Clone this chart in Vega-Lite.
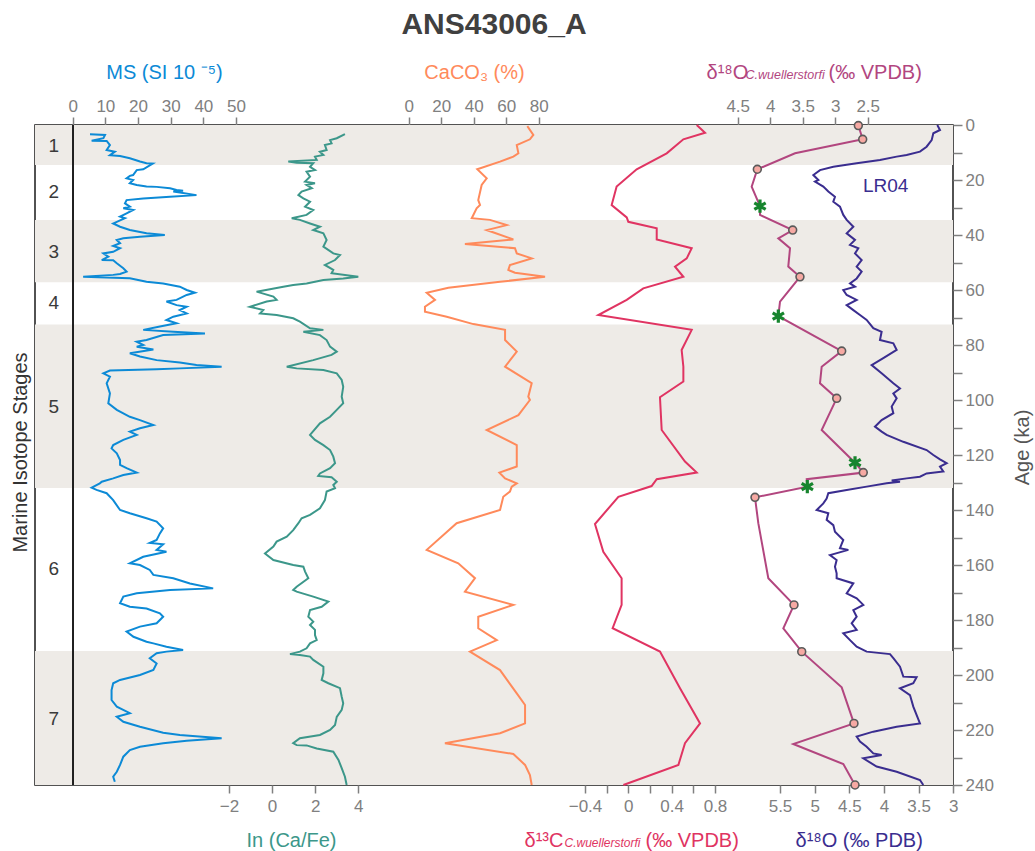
{
  "$schema": "https://vega.github.io/schema/vega-lite/v6.json",
  "width": 918,
  "height": 660,
  "autosize": "none",
  "padding": {"left": 35, "top": 125, "right": 82, "bottom": 66},
  "title": {"text": "ANS43006_A", "fontSize": 30, "fontWeight": "bold", "color": "#404040", "font": "Liberation Sans", "anchor": "middle", "offset": 22},
  "config": {
    "font": "Liberation Sans",
    "view": {"stroke": "#1a1a1a", "strokeWidth": 1.5},
    "axis": {"labelFont": "Liberation Sans", "labelFontSize": 17, "labelColor": "#808080", "tickColor": "#808080", "tickSize": 8, "tickWidth": 1.5, "domain": false, "grid": false, "labelFlush": false, "labelOverlap": false, "titleFont": "Liberation Sans", "titleFontSize": 20, "titleFontWeight": "normal", "titleBaseline": "alphabetic"},
    "axisTop": {"labelPadding": 2},
    "axisBottom": {"labelPadding": 5}
  },
  "datasets": {
    "bands": [{"start": 0, "end": 14.5}, {"start": 34.5, "end": 57.2}, {"start": 72.5, "end": 132}, {"start": 191.3, "end": 240}],
    "stages": [{"stage": "1", "age": 7.6}, {"stage": "2", "age": 24.5}, {"stage": "3", "age": 46}, {"stage": "4", "age": 64.7}, {"stage": "5", "age": 102.5}, {"stage": "6", "age": 161.5}, {"stage": "7", "age": 216}],
    "ms": [
      {"age":3.4,"ms":5.3},{"age":3.6,"ms":9.9},{"age":4.8,"ms":9.4},{"age":5.7,"ms":5.8},{"age":5.8,"ms":10.4},{"age":7.3,"ms":11.4},{"age":9.1,"ms":10.4},{"age":9.7,"ms":12.9},{"age":11.0,"ms":11.4},{"age":11.3,"ms":14.5},{"age":12.1,"ms":17.5},{"age":13.3,"ms":20.6},{"age":13.9,"ms":22.6},{"age":14.0,"ms":24.5},{"age":16.1,"ms":21.6},{"age":16.4,"ms":19.6},{"age":18.2,"ms":18.5},{"age":18.5,"ms":17.5},{"age":19.4,"ms":16.5},{"age":20.0,"ms":18.5},{"age":21.2,"ms":17.5},{"age":21.8,"ms":19.6},{"age":22.4,"ms":22.6},{"age":22.5,"ms":25.7},{"age":23.0,"ms":29.8},{"age":23.6,"ms":31.8},{"age":23.9,"ms":33.8},{"age":24.2,"ms":30.8},{"age":25.5,"ms":37.9},{"age":26.1,"ms":29.8},{"age":26.7,"ms":21.6},{"age":27.3,"ms":16.5},{"age":28.5,"ms":16.0},{"age":29.7,"ms":17.5},{"age":30.3,"ms":15.5},{"age":30.9,"ms":18.5},{"age":32.1,"ms":16.5},{"age":33.3,"ms":14.5},{"age":33.9,"ms":16.0},{"age":35.2,"ms":13.5},{"age":35.8,"ms":12.4},{"age":37.0,"ms":14.5},{"age":38.2,"ms":17.5},{"age":39.4,"ms":22.6},{"age":40.0,"ms":28.2},{"age":40.6,"ms":20.6},{"age":41.2,"ms":15.5},{"age":41.8,"ms":13.5},{"age":43.0,"ms":14.5},{"age":44.0,"ms":12.4},{"age":44.8,"ms":14.5},{"age":46.1,"ms":12.4},{"age":46.7,"ms":9.4},{"age":47.9,"ms":10.9},{"age":49.1,"ms":8.9},{"age":49.2,"ms":12.4},{"age":50.3,"ms":13.5},{"age":52.1,"ms":15.5},{"age":53.3,"ms":16.5},{"age":54.2,"ms":14.5},{"age":54.5,"ms":12.4},{"age":55.2,"ms":3.2},{"age":55.7,"ms":17.5},{"age":57.0,"ms":22.6},{"age":57.6,"ms":27.7},{"age":58.8,"ms":32.8},{"age":60.0,"ms":34.9},{"age":61.0,"ms":37.4},{"age":61.8,"ms":34.9},{"age":63.6,"ms":31.8},{"age":64.2,"ms":28.7},{"age":65.5,"ms":31.8},{"age":66.1,"ms":34.9},{"age":67.3,"ms":32.8},{"age":68.5,"ms":34.9},{"age":69.7,"ms":30.8},{"age":70.9,"ms":28.7},{"age":72.1,"ms":31.8},{"age":73.3,"ms":26.7},{"age":74.5,"ms":21.6},{"age":75.2,"ms":30.8},{"age":75.8,"ms":40.5},{"age":76.4,"ms":27.7},{"age":78.2,"ms":22.6},{"age":78.8,"ms":19.6},{"age":80.0,"ms":21.6},{"age":80.6,"ms":19.6},{"age":81.6,"ms":24.7},{"age":83.0,"ms":17.5},{"age":84.2,"ms":20.6},{"age":85.5,"ms":25.7},{"age":86.4,"ms":32.8},{"age":87.3,"ms":37.9},{"age":87.9,"ms":45.6},{"age":88.5,"ms":32.8},{"age":88.8,"ms":25.7},{"age":89.3,"ms":11.4},{"age":90.3,"ms":9.4},{"age":91.5,"ms":11.4},{"age":93.9,"ms":10.4},{"age":97.6,"ms":11.4},{"age":101.2,"ms":10.9},{"age":103.6,"ms":13.5},{"age":106.1,"ms":17.5},{"age":107.3,"ms":20.6},{"age":109.1,"ms":24.7},{"age":110.3,"ms":20.6},{"age":111.5,"ms":17.5},{"age":112.7,"ms":19.6},{"age":114.5,"ms":15.5},{"age":116.4,"ms":12.4},{"age":117.6,"ms":11.9},{"age":119.4,"ms":13.5},{"age":121.8,"ms":14.5},{"age":123.6,"ms":14.5},{"age":124.8,"ms":16.5},{"age":126.4,"ms":19.6},{"age":127.3,"ms":15.5},{"age":128.5,"ms":12.4},{"age":129.7,"ms":8.9},{"age":130.3,"ms":8.3},{"age":131.9,"ms":5.8},{"age":132.7,"ms":7.3},{"age":133.9,"ms":10.4},{"age":136.4,"ms":12.4},{"age":140,"ms":14.5},{"age":141.2,"ms":17.5},{"age":143,"ms":22.6},{"age":144.2,"ms":25.7},{"age":146.7,"ms":27.7},{"age":148.5,"ms":26.7},{"age":150.9,"ms":25.7},{"age":152.0,"ms":23.6},{"age":152.5,"ms":27.7},{"age":154.5,"ms":25.7},{"age":155.2,"ms":28.7},{"age":157,"ms":21.6},{"age":159.4,"ms":17.5},{"age":160,"ms":20.6},{"age":161.8,"ms":23.6},{"age":163.6,"ms":24.7},{"age":164.8,"ms":30.8},{"age":166.7,"ms":35.9},{"age":168.5,"ms":43},{"age":169.1,"ms":29.8},{"age":170.3,"ms":19.6},{"age":171.5,"ms":15.5},{"age":173.9,"ms":14.5},{"age":175.2,"ms":17.5},{"age":175.8,"ms":22.6},{"age":177.6,"ms":26.7},{"age":178.8,"ms":27.7},{"age":181.2,"ms":25.7},{"age":182.4,"ms":20.6},{"age":184.2,"ms":16.5},{"age":186.1,"ms":18.6},{"age":187.9,"ms":22.6},{"age":188.5,"ms":24.7},{"age":189.7,"ms":28.7},{"age":190.9,"ms":33.8},{"age":191.5,"ms":28.7},{"age":192.1,"ms":25.7},{"age":193.9,"ms":23.6},{"age":195.8,"ms":25.7},{"age":198.2,"ms":24.7},{"age":200,"ms":20.6},{"age":201.8,"ms":14.5},{"age":203,"ms":12.4},{"age":205.5,"ms":11.9},{"age":209.1,"ms":11.9},{"age":211.5,"ms":13.5},{"age":213.9,"ms":17.5},{"age":215.2,"ms":13.5},{"age":217,"ms":15.5},{"age":218.8,"ms":20.6},{"age":221,"ms":27.7},{"age":221.8,"ms":32.8},{"age":223,"ms":45.6},{"age":223.9,"ms":34.9},{"age":224.8,"ms":27.7},{"age":226.1,"ms":20.6},{"age":227.3,"ms":17.5},{"age":229.7,"ms":15.5},{"age":232.7,"ms":14.5},{"age":235.2,"ms":13.5},{"age":237,"ms":12.4},{"age":238.8,"ms":12.9}
    ],
    "cafe": [
      {"age":3.3,"v":3.38},{"age":4.8,"v":3.0},{"age":5.5,"v":2.69},{"age":6.7,"v":2.76},{"age":7.3,"v":2.45},{"age":9.1,"v":2.53},{"age":9.7,"v":2.22},{"age":10.9,"v":2.38},{"age":11.5,"v":1.99},{"age":12.7,"v":2.07},{"age":13.3,"v":0.75},{"age":13.7,"v":1.14},{"age":13.9,"v":1.91},{"age":15.2,"v":1.76},{"age":16.4,"v":1.99},{"age":17,"v":1.6},{"age":18.8,"v":1.76},{"age":20.6,"v":1.53},{"age":21.2,"v":1.99},{"age":21.8,"v":1.6},{"age":23,"v":1.84},{"age":24.2,"v":1.37},{"age":25.5,"v":1.22},{"age":26.7,"v":1.45},{"age":27.9,"v":1.76},{"age":29.7,"v":1.53},{"age":30.9,"v":1.91},{"age":32.7,"v":1.6},{"age":33.9,"v":0.91},{"age":34.5,"v":1.29},{"age":35.8,"v":1.76},{"age":37,"v":2.22},{"age":38.2,"v":1.91},{"age":39.4,"v":2.38},{"age":41.8,"v":2.53},{"age":44.2,"v":2.38},{"age":46.7,"v":2.84},{"age":47.3,"v":3.15},{"age":49.1,"v":2.92},{"age":50.9,"v":2.45},{"age":52.7,"v":2.84},{"age":53.9,"v":2.76},{"age":55.2,"v":4.0},{"age":55.8,"v":3.3},{"age":56.4,"v":2.38},{"age":57.6,"v":1.6},{"age":58.2,"v":0.98},{"age":58.8,"v":0.52},{"age":60.6,"v":-0.72},{"age":62.4,"v":0.06},{"age":63.6,"v":0.21},{"age":64.2,"v":-0.25},{"age":66.1,"v":-1.03},{"age":67.3,"v":-0.41},{"age":68.5,"v":-0.56},{"age":69.1,"v":0.21},{"age":70.3,"v":0.98},{"age":71.5,"v":1.29},{"age":73.9,"v":1.76},{"age":74.5,"v":2.38},{"age":75.2,"v":1.45},{"age":76.4,"v":2.22},{"age":78.2,"v":2.53},{"age":80.6,"v":2.69},{"age":82.4,"v":3.0},{"age":83.6,"v":2.76},{"age":85.5,"v":1.91},{"age":87.9,"v":0.68},{"age":88.5,"v":1.14},{"age":89.1,"v":2.38},{"age":90.3,"v":3.0},{"age":92.7,"v":3.23},{"age":95.2,"v":3.3},{"age":98.8,"v":3.23},{"age":101.2,"v":3.3},{"age":103.6,"v":3.0},{"age":106.1,"v":2.69},{"age":108.5,"v":2.22},{"age":112.7,"v":1.76},{"age":114.5,"v":1.99},{"age":116.4,"v":2.38},{"age":118.2,"v":2.69},{"age":120.6,"v":2.84},{"age":123,"v":2.92},{"age":124.8,"v":2.69},{"age":126.7,"v":2.22},{"age":127.6,"v":2.14},{"age":128.1,"v":2.76},{"age":129.7,"v":3.0},{"age":130.9,"v":2.84},{"age":132.1,"v":2.92},{"age":133.3,"v":2.53},{"age":136.4,"v":2.45},{"age":139.4,"v":2.22},{"age":141.8,"v":1.76},{"age":143,"v":1.37},{"age":144.8,"v":1.22},{"age":147.3,"v":0.98},{"age":149.7,"v":0.68},{"age":151.5,"v":0.21},{"age":153.3,"v":0.06},{"age":155.8,"v":-0.33},{"age":158.2,"v":0.06},{"age":160,"v":0.98},{"age":160.6,"v":1.45},{"age":162.4,"v":1.53},{"age":164.8,"v":1.68},{"age":167.9,"v":1.14},{"age":169.1,"v":0.98},{"age":169.7,"v":1.14},{"age":171.5,"v":1.91},{"age":173.3,"v":2.61},{"age":175.2,"v":2.3},{"age":176.4,"v":1.76},{"age":178.8,"v":1.68},{"age":180.6,"v":1.91},{"age":181.8,"v":1.76},{"age":183.6,"v":1.99},{"age":185.5,"v":1.99},{"age":187.3,"v":2.07},{"age":188.5,"v":1.76},{"age":190.3,"v":1.6},{"age":191.5,"v":1.29},{"age":192.4,"v":0.83},{"age":192.7,"v":1.29},{"age":193.3,"v":1.76},{"age":194.5,"v":1.91},{"age":197,"v":2.38},{"age":199.4,"v":2.38},{"age":201.8,"v":2.3},{"age":203,"v":2.61},{"age":204.8,"v":3.15},{"age":207.9,"v":3.23},{"age":210.3,"v":3.3},{"age":212.7,"v":3.23},{"age":215.2,"v":3.0},{"age":218.2,"v":2.92},{"age":220,"v":2.69},{"age":221.8,"v":2.22},{"age":223,"v":1.29},{"age":224.8,"v":0.98},{"age":225.5,"v":1.14},{"age":225.6,"v":1.6},{"age":226.7,"v":2.07},{"age":227.9,"v":2.84},{"age":230.9,"v":3.08},{"age":233.9,"v":3.23},{"age":237,"v":3.38},{"age":240,"v":3.46}
    ],
    "caco3": [
      {"age":0.4,"v":73},{"age":3.6,"v":76.7},{"age":5.2,"v":74.6},{"age":7.3,"v":66.5},{"age":10.3,"v":67.5},{"age":11.5,"v":64.4},{"age":13.3,"v":56.2},{"age":16.1,"v":42.2},{"age":19.4,"v":48},{"age":21.8,"v":44.9},{"age":27.3,"v":42.8},{"age":29.1,"v":43.9},{"age":30.3,"v":41.8},{"age":33.9,"v":38.8},{"age":34.5,"v":50},{"age":36.4,"v":60.3},{"age":38.2,"v":48},{"age":41.6,"v":64.4},{"age":43.3,"v":34.6},{"age":44.8,"v":65.4},{"age":46.7,"v":66.5},{"age":48.5,"v":75.7},{"age":50.9,"v":62.3},{"age":52.7,"v":61.3},{"age":53.7,"v":65.4},{"age":55.2,"v":83.9},{"age":57,"v":56.2},{"age":59.2,"v":24.4},{"age":61,"v":11.1},{"age":63.6,"v":16.2},{"age":66.1,"v":10},{"age":67.9,"v":10},{"age":69.7,"v":23.4},{"age":72.4,"v":39.8},{"age":74.5,"v":59.3},{"age":78.2,"v":59.3},{"age":82.4,"v":66.5},{"age":87.9,"v":59.3},{"age":93.9,"v":75.7},{"age":98.8,"v":73.6},{"age":100,"v":74.6},{"age":105.5,"v":67.5},{"age":110.9,"v":48},{"age":116.4,"v":66.5},{"age":121.8,"v":66.5},{"age":124.2,"v":66.5},{"age":126.4,"v":55.8},{"age":128.5,"v":59.3},{"age":130.3,"v":66.5},{"age":131.5,"v":63.4},{"age":133.3,"v":62.3},{"age":135.2,"v":58.2},{"age":140,"v":56.2},{"age":144.8,"v":29.5},{"age":154.5,"v":11.1},{"age":159.4,"v":30.5},{"age":164.8,"v":40.8},{"age":169.7,"v":34.6},{"age":174.5,"v":64.4},{"age":178.8,"v":42.8},{"age":183,"v":42.8},{"age":187.3,"v":54.2},{"age":191.5,"v":37.7},{"age":198.2,"v":56.2},{"age":206.7,"v":66.5},{"age":210.9,"v":71.6},{"age":217.6,"v":71.6},{"age":221.2,"v":56.2},{"age":224.8,"v":22.3},{"age":228.7,"v":64.4},{"age":232.7,"v":71.6},{"age":236.4,"v":74.6},{"age":240,"v":75.7}
    ],
    "d13c": [
      {"age":0,"v":0.631},{"age":2.8,"v":0.708},{"age":5.2,"v":0.508},{"age":10.3,"v":0.354},{"age":16.1,"v":0.077},{"age":22.4,"v":-0.108},{"age":29.1,"v":-0.154},{"age":33.6,"v":-0.015},{"age":35.2,"v":0.0},{"age":37.6,"v":0.262},{"age":41.6,"v":0.262},{"age":44.8,"v":0.585},{"age":48.5,"v":0.539},{"age":51.5,"v":0.431},{"age":55.2,"v":0.508},{"age":59.4,"v":0.138},{"age":63.6,"v":-0.015},{"age":69.1,"v":-0.277},{"age":74.5,"v":0.585},{"age":81.8,"v":0.492},{"age":87.9,"v":0.508},{"age":93.3,"v":0.508},{"age":99,"v":0.292},{"age":110.9,"v":0.308},{"age":122.4,"v":0.523},{"age":126.4,"v":0.631},{"age":128.8,"v":0.262},{"age":131.3,"v":0.215},{"age":135.2,"v":-0.092},{"age":145.1,"v":-0.308},{"age":155.2,"v":-0.231},{"age":164.8,"v":-0.062},{"age":174.5,"v":-0.062},{"age":183,"v":-0.145},{"age":191.5,"v":0.292},{"age":204.8,"v":0.477},{"age":217.6,"v":0.662},{"age":224.8,"v":0.523},{"age":232.7,"v":0.462},{"age":240,"v":-0.046}
    ],
    "d18o": [
      {"age":0.2,"v":2.644,"t":"c"},{"age":5.2,"v":2.577,"t":"c"},{"age":10.3,"v":3.618,"t":"n"},{"age":16.1,"v":4.198,"t":"c"},{"age":22.4,"v":4.285,"t":"n"},{"age":29.5,"v":4.157,"t":"s"},{"age":32.7,"v":4.157,"t":"n"},{"age":38.2,"v":3.654,"t":"c"},{"age":41.2,"v":3.875,"t":"n"},{"age":44.8,"v":3.695,"t":"n"},{"age":51.5,"v":3.722,"t":"n"},{"age":55.2,"v":3.542,"t":"c"},{"age":64.2,"v":3.849,"t":"n"},{"age":69.5,"v":3.875,"t":"s"},{"age":82.2,"v":2.9,"t":"c"},{"age":87.9,"v":3.208,"t":"n"},{"age":93.9,"v":3.234,"t":"n"},{"age":99.4,"v":2.977,"t":"c"},{"age":110.9,"v":3.208,"t":"n"},{"age":122.8,"v":2.695,"t":"s"},{"age":126.4,"v":2.568,"t":"c"},{"age":128.8,"v":3.438,"t":"n"},{"age":131.5,"v":3.429,"t":"s"},{"age":135.4,"v":4.234,"t":"c"},{"age":144.8,"v":4.183,"t":"n"},{"age":164.8,"v":4.029,"t":"n"},{"age":174.5,"v":3.634,"t":"c"},{"age":183,"v":3.798,"t":"n"},{"age":191.5,"v":3.515,"t":"c"},{"age":204.5,"v":2.9,"t":"n"},{"age":217.6,"v":2.711,"t":"c"},{"age":225.1,"v":3.645,"t":"n"},{"age":232.4,"v":2.875,"t":"n"},{"age":240,"v":2.695,"t":"c"}
    ],
    "lr04": [
      {"age":0,"v":3.231},{"age":1.8,"v":3.192},{"age":3.0,"v":3.288},{"age":5.5,"v":3.312},{"age":7.9,"v":3.385},{"age":9.7,"v":3.481},{"age":10.9,"v":3.673},{"age":11.5,"v":3.817},{"age":12.7,"v":4.058},{"age":13.9,"v":4.394},{"age":15.2,"v":4.731},{"age":16.4,"v":4.923},{"age":18.2,"v":5.019},{"age":20,"v":4.947},{"age":20.6,"v":4.995},{"age":22.4,"v":4.875},{"age":24.2,"v":4.803},{"age":26.1,"v":4.707},{"age":27.9,"v":4.731},{"age":29.7,"v":4.635},{"age":32.7,"v":4.587},{"age":34.5,"v":4.538},{"age":37,"v":4.442},{"age":39.4,"v":4.538},{"age":41.8,"v":4.418},{"age":43.6,"v":4.49},{"age":44.8,"v":4.37},{"age":46.7,"v":4.418},{"age":49.1,"v":4.322},{"age":51.5,"v":4.394},{"age":53.3,"v":4.322},{"age":55.8,"v":4.394},{"age":57.6,"v":4.49},{"age":58.8,"v":4.418},{"age":60,"v":4.587},{"age":61.8,"v":4.538},{"age":63.6,"v":4.394},{"age":65.5,"v":4.538},{"age":67.3,"v":4.442},{"age":69.1,"v":4.346},{"age":70.9,"v":4.25},{"age":73.9,"v":4.154},{"age":75.2,"v":4.034},{"age":78.2,"v":4.058},{"age":79.4,"v":3.865},{"age":81.8,"v":3.817},{"age":84.8,"v":4.01},{"age":87.3,"v":4.178},{"age":90.3,"v":4.034},{"age":93.9,"v":3.865},{"age":95.8,"v":3.769},{"age":97.6,"v":3.865},{"age":99.4,"v":3.817},{"age":102.4,"v":3.889},{"age":104.8,"v":3.865},{"age":107.3,"v":4.034},{"age":109.7,"v":4.13},{"age":111.5,"v":4.034},{"age":112.7,"v":3.962},{"age":115.2,"v":3.721},{"age":118.2,"v":3.385},{"age":120,"v":3.288},{"age":121.6,"v":3.192},{"age":123,"v":3.096},{"age":124.2,"v":3.192},{"age":126,"v":3.144},{"age":126.7,"v":3.385},{"age":127.9,"v":3.481},{"age":128.5,"v":3.673},{"age":129.3,"v":3.889},{"age":129.7,"v":3.769},{"age":130.3,"v":3.962},{"age":131.5,"v":4.25},{"age":132.7,"v":4.538},{"age":133.9,"v":4.803},{"age":135.8,"v":4.827},{"age":137.6,"v":4.875},{"age":140,"v":4.971},{"age":141.2,"v":4.803},{"age":143.6,"v":4.827},{"age":145.5,"v":4.731},{"age":147.9,"v":4.707},{"age":150.9,"v":4.587},{"age":153.9,"v":4.635},{"age":154.5,"v":4.514},{"age":156.4,"v":4.779},{"age":158.2,"v":4.683},{"age":160.6,"v":4.707},{"age":163,"v":4.683},{"age":164.8,"v":4.683},{"age":166.7,"v":4.442},{"age":170.3,"v":4.538},{"age":172.1,"v":4.394},{"age":174.5,"v":4.298},{"age":176.4,"v":4.442},{"age":178.8,"v":4.394},{"age":181.2,"v":4.466},{"age":183.6,"v":4.394},{"age":184.8,"v":4.587},{"age":187.3,"v":4.49},{"age":189.7,"v":4.394},{"age":191.5,"v":4.25},{"age":192.4,"v":3.913},{"age":193.9,"v":3.865},{"age":197,"v":3.769},{"age":200.6,"v":3.721},{"age":200.8,"v":3.529},{"age":203,"v":3.577},{"age":204.8,"v":3.769},{"age":207.3,"v":3.625},{"age":211.5,"v":3.577},{"age":217.6,"v":3.481},{"age":218.8,"v":3.817},{"age":220.6,"v":4.154},{"age":222.4,"v":4.394},{"age":224.2,"v":4.346},{"age":226.1,"v":4.25},{"age":228.5,"v":4.154},{"age":229.1,"v":4.034},{"age":230.3,"v":4.298},{"age":233.3,"v":4.106},{"age":235.2,"v":3.817},{"age":238.2,"v":3.481},{"age":240,"v":3.433}
    ],
    "lrlabel": [{"label": "LR04", "age": 22.2, "v": 3.975}]
  },
  "resolve": {"scale": {"x": "independent", "y": "independent"}, "axis": {"x": "independent", "y": "independent"}},
  "layer": [
    {
      "data": {"name": "bands"},
      "mark": {"type": "rect", "color": "#eeebe7"},
      "encoding": {
        "y": {"field": "start", "type": "quantitative", "scale": {"domain": [0, 240], "reverse": true, "nice": false, "zero": false},
              "axis": {"orient": "left", "title": "Marine Isotope Stages", "labels": false, "ticks": false, "domain": false, "titleX": -15, "titleY": 327, "titleAngle": 270, "titleAlign": "center", "titleBaseline": "middle", "titleColor": "#333333", "titleFontSize": 20}},
        "y2": {"field": "end"}
      }
    },
    {
      "data": {"name": "stages"},
      "mark": {"type": "text", "fontSize": 19, "color": "#3a3a3a", "align": "center", "baseline": "middle"},
      "encoding": {
        "x": {"datum": 0.5, "type": "quantitative", "scale": {"domain": [0, 1], "range": [0, 37.7], "nice": false, "zero": false},
              "axis": {"orient": "bottom", "title": "(‰ VPDB)", "labels": false, "ticks": false, "domain": false, "titleX": 610, "titleY": 61.5, "titleAlign": "left", "titleColor": "#e03462"}},
        "y": {"field": "age", "type": "quantitative", "scale": {"domain": [0, 240], "reverse": true, "nice": false, "zero": false}, "axis": null},
        "text": {"field": "stage"}
      }
    },
    {
      "data": {"name": "ms"},
      "mark": {"type": "rule", "color": "#222222", "strokeWidth": 1.3},
      "encoding": {
        "x": {"datum": 0, "type": "quantitative", "scale": {"domain": [0, 50], "range": [37.7, 201], "nice": false, "zero": false}, "axis": null}
      }
    },
    {
      "data": {"name": "ms"},
      "mark": {"type": "line", "color": "#0c8ad6", "strokeWidth": 2},
      "encoding": {
        "x": {"field": "ms", "type": "quantitative", "scale": {"domain": [0, 50], "range": [37.7, 201], "nice": false, "zero": false},
              "axis": {"orient": "top", "values": [0, 10, 20, 30, 40, 50], "title": "MS (SI 10 ⁻⁵)", "titleColor": "#0c8ad6", "titleX": 129, "titleY": -46.7, "titleAlign": "center"}},
        "y": {"field": "age", "type": "quantitative", "scale": {"domain": [0, 240], "reverse": true, "nice": false, "zero": false},
              "axis": {"orient": "right", "values": [0,10,20,30,40,50,60,70,80,90,100,110,120,130,140,150,160,170,180,190,200,210,220,230,240], "labelExpr": "datum.value % 20 == 0 ? datum.label : ''", "tickSize": 9, "labelPadding": 3, "title": "Age (ka)", "titleAngle": 270, "titleX": 69, "titleY": 322, "titleAlign": "center", "titleBaseline": "middle", "titleColor": "#555555"}},
        "order": {"field": "age"}
      }
    },
    {
      "data": {"name": "cafe"},
      "mark": {"type": "line", "color": "#3c978a", "strokeWidth": 2},
      "encoding": {
        "x": {"field": "v", "type": "quantitative", "scale": {"domain": [-2, 4], "range": [194, 323.3], "nice": false, "zero": false},
              "axis": {"orient": "bottom", "values": [-2, 0, 2, 4], "title": "In (Ca/Fe)", "titleColor": "#3c978a", "titleX": 256, "titleY": 61.5, "titleAlign": "center"}},
        "y": {"field": "age", "type": "quantitative", "scale": {"domain": [0, 240], "reverse": true, "nice": false, "zero": false}, "axis": null},
        "order": {"field": "age"}
      }
    },
    {
      "data": {"name": "caco3"},
      "mark": {"type": "line", "color": "#ff8a5b", "strokeWidth": 2},
      "encoding": {
        "x": {"field": "v", "type": "quantitative", "scale": {"domain": [0, 80], "range": [373.7, 503.7], "nice": false, "zero": false},
              "axis": {"orient": "top", "values": [0, 20, 40, 60, 80], "title": "CaCO₃ (%)", "titleColor": "#ff8a5b", "titleX": 439, "titleY": -46.7, "titleAlign": "center"}},
        "y": {"field": "age", "type": "quantitative", "scale": {"domain": [0, 240], "reverse": true, "nice": false, "zero": false}, "axis": null},
        "order": {"field": "age"}
      }
    },
    {
      "data": {"name": "d13c"},
      "mark": {"type": "line", "color": "#e03462", "strokeWidth": 2},
      "encoding": {
        "x": {"field": "v", "type": "quantitative", "scale": {"domain": [-0.4, 0.8], "range": [550, 680], "nice": false, "zero": false},
              "axis": {"orient": "bottom", "values": [-0.4, -0.2, 0, 0.2, 0.4, 0.6, 0.8], "format": ".1~f", "labelExpr": "abs(round(datum.value * 10)) % 4 == 0 ? datum.label : ''", "title": "δ¹³C", "titleColor": "#e03462", "titleX": 489, "titleY": 61.5, "titleAlign": "left"}},
        "y": {"field": "age", "type": "quantitative", "scale": {"domain": [0, 240], "reverse": true, "nice": false, "zero": false}, "axis": null},
        "order": {"field": "age"}
      }
    },
    {
      "data": {"name": "lr04"},
      "mark": {"type": "line", "color": "#3a2d8f", "strokeWidth": 2},
      "encoding": {
        "x": {"field": "v", "type": "quantitative", "scale": {"domain": [3, 5.5], "range": [745, 918.3], "reverse": true, "nice": false, "zero": false},
              "axis": {"orient": "bottom", "values": [3, 3.5, 4, 4.5, 5, 5.5], "format": "~g", "title": "δ¹⁸O (‰ PDB)", "titleColor": "#3a2d8f", "titleX": 760, "titleY": 61.5, "titleAlign": "left"}},
        "y": {"field": "age", "type": "quantitative", "scale": {"domain": [0, 240], "reverse": true, "nice": false, "zero": false}, "axis": null},
        "order": {"field": "age"}
      }
    },
    {
      "data": {"name": "lrlabel"},
      "mark": {"type": "text", "fontSize": 19, "color": "#3a2d8f", "align": "center", "baseline": "middle"},
      "encoding": {
        "x": {"field": "v", "type": "quantitative", "scale": {"domain": [3, 5.5], "range": [745, 918.3], "reverse": true, "nice": false, "zero": false},
              "axis": {"orient": "bottom", "title": "C.wuellerstorfi", "labels": false, "ticks": false, "domain": false, "titleFontStyle": "italic", "titleFontSize": 12, "titleColor": "#e03462", "titleX": 529, "titleY": 61.5, "titleAlign": "left"}},
        "y": {"field": "age", "type": "quantitative", "scale": {"domain": [0, 240], "reverse": true, "nice": false, "zero": false}, "axis": null},
        "text": {"field": "label"}
      }
    },
    {
      "data": {"name": "d18o"},
      "mark": {"type": "line", "color": "#b2467f", "strokeWidth": 2},
      "encoding": {
        "x": {"field": "v", "type": "quantitative", "scale": {"domain": [2.5, 4.5], "range": [702.7, 832.7], "reverse": true, "nice": false, "zero": false},
              "axis": {"orient": "top", "values": [2.5, 3, 3.5, 4, 4.5], "format": "~g", "title": "δ¹⁸O", "titleColor": "#b2467f", "titleX": 671, "titleY": -46.7, "titleAlign": "left"}},
        "y": {"field": "age", "type": "quantitative", "scale": {"domain": [0, 240], "reverse": true, "nice": false, "zero": false}, "axis": null},
        "order": {"field": "age"}
      }
    },
    {
      "data": {"name": "d18o"},
      "transform": [{"filter": "datum.t == 'c'"}],
      "mark": {"type": "point", "shape": "circle", "filled": true, "fill": "#f6a9a3", "stroke": "#5a5a5a", "strokeWidth": 1.6, "size": 62, "opacity": 1},
      "encoding": {
        "x": {"field": "v", "type": "quantitative", "scale": {"domain": [2.5, 4.5], "range": [702.7, 832.7], "reverse": true, "nice": false, "zero": false},
              "axis": {"orient": "top", "title": "C.wuellerstorfi", "labels": false, "ticks": false, "domain": false, "titleFontStyle": "italic", "titleFontSize": 12.5, "titleColor": "#b2467f", "titleX": 710, "titleY": -46.7, "titleAlign": "left"}},
        "y": {"field": "age", "type": "quantitative", "scale": {"domain": [0, 240], "reverse": true, "nice": false, "zero": false}, "axis": null}
      }
    },
    {
      "data": {"name": "d18o"},
      "transform": [{"filter": "datum.t == 's'"}],
      "mark": {"type": "point", "shape": "M0,-1L0,1M-0.87,-0.5L0.87,0.5M-0.87,0.5L0.87,-0.5", "filled": false, "stroke": "#17852e", "strokeWidth": 3.2, "size": 170, "opacity": 1},
      "encoding": {
        "x": {"field": "v", "type": "quantitative", "scale": {"domain": [2.5, 4.5], "range": [702.7, 832.7], "reverse": true, "nice": false, "zero": false},
              "axis": {"orient": "top", "title": "(‰ VPDB)", "labels": false, "ticks": false, "domain": false, "titleColor": "#b2467f", "titleX": 793, "titleY": -46.7, "titleAlign": "left"}},
        "y": {"field": "age", "type": "quantitative", "scale": {"domain": [0, 240], "reverse": true, "nice": false, "zero": false}, "axis": null}
      }
    }
  ]
}
